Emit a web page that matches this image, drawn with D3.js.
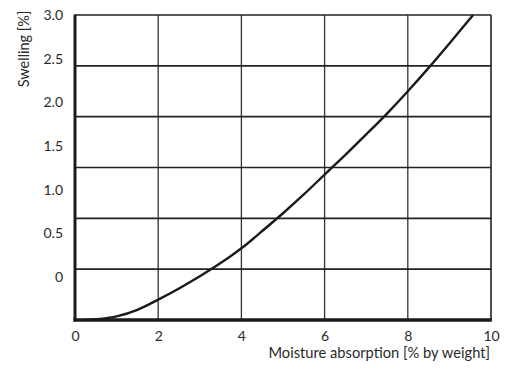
<!DOCTYPE html>
<html><head><meta charset="utf-8">
<script src="https://cdn.jsdelivr.net/npm/d3@7"></script>
<style>body{margin:0;background:#fff}svg{display:block}text{font-family:Lato,"Open Sans",sans-serif;fill:#2a2a2a}</style>
</head><body><svg id="c" width="514" height="369"></svg>
<script>
const moisture = [0.2, 0.6, 1.0, 1.5, 2.0, 2.5, 3.0, 3.5, 4.0, 4.5, 5.0, 5.5, 6.0, 6.5, 7.0, 7.5, 8.0, 8.5, 9.0, 9.57];
const swelling = [0, 0.01, 0.035, 0.10, 0.20, 0.31, 0.43, 0.56, 0.705, 0.875, 1.05, 1.235, 1.43, 1.625, 1.825, 2.03, 2.25, 2.48, 2.72, 3.0];
const xTicks = [0, 2, 4, 6, 8, 10];
const yGrid = [0, 0.5, 1.0, 1.5, 2.0, 2.5, 3.0];
const yTickLabels = ["0", "0.5", "1.0", "1.5", "2.0", "2.5", "3.0"];
const xTitle = "Moisture absorption [% by weight]";
const yTitle = "Swelling [%]";

const svg = d3.select("#c");
const L = 75, R = 491, T = 15, B = 320;
const x = d3.scaleLinear().domain([0, 10]).range([L, R]);
const y = d3.scaleLinear().domain([0, 3]).range([B, T]);
// labels in the original are spaced differently from the grid
const yLab = d3.scaleLinear().domain([0, 3]).range([277, T]);

// vertical gridlines
svg.append("g").selectAll("line").data(xTicks.slice(1, -1)).join("line")
  .attr("x1", d => x(d)).attr("x2", d => x(d)).attr("y1", T).attr("y2", B)
  .attr("stroke", "#333").attr("stroke-width", 1.3);
// horizontal gridlines
svg.append("g").selectAll("line").data(yGrid.slice(1)).join("line")
  .attr("x1", L).attr("x2", R).attr("y1", d => y(d)).attr("y2", d => y(d))
  .attr("stroke", "#222").attr("stroke-width", 1.6);
// right border
svg.append("line").attr("x1", R).attr("x2", R).attr("y1", T).attr("y2", B)
  .attr("stroke", "#222").attr("stroke-width", 1.6);

// curve
const line = d3.line().x((d, i) => x(moisture[i])).y(d => y(d)).curve(d3.curveCatmullRom);
svg.append("path").attr("d", line(swelling)).attr("fill", "none")
  .attr("stroke", "#1a1a1a").attr("stroke-width", 2.4);

// axes frame
svg.append("line").attr("x1", L).attr("x2", L).attr("y1", T - 0.5).attr("y2", B + 1.5)
  .attr("stroke", "#1a1a1a").attr("stroke-width", 3);
svg.append("line").attr("x1", L - 1.5).attr("x2", R + 0.8).attr("y1", B).attr("y2", B)
  .attr("stroke", "#1a1a1a").attr("stroke-width", 3.5);

// x axis labels
const xAxis = d3.axisBottom(x).tickValues(xTicks).tickSize(0).tickPadding(0).tickFormat(d3.format("d"));
const gx = svg.append("g").attr("transform", `translate(0,${B + 17})`).call(xAxis);
gx.select(".domain").remove();
gx.selectAll("text").attr("font-size", 14).attr("font-family", "Lato,sans-serif").attr("fill", "#2a2a2a").attr("dy", "0.32em");

// y axis labels
const yAxis = d3.axisLeft(yLab).tickValues(yGrid).tickSize(0).tickPadding(0)
  .tickFormat((d, i) => yTickLabels[i]);
const gy = svg.append("g").attr("transform", `translate(63,0)`).call(yAxis);
gy.select(".domain").remove();
gy.selectAll("text").attr("font-size", 14).attr("font-family", "Lato,sans-serif").attr("fill", "#2a2a2a");

// titles
svg.append("text").attr("x", R - 1).attr("y", 358).attr("text-anchor", "end")
  .attr("font-size", 14.7).text(xTitle);
svg.append("text").attr("transform", "translate(29,49) rotate(-90)").attr("text-anchor", "middle")
  .attr("font-size", 14.5).text(yTitle);
</script></body></html>
